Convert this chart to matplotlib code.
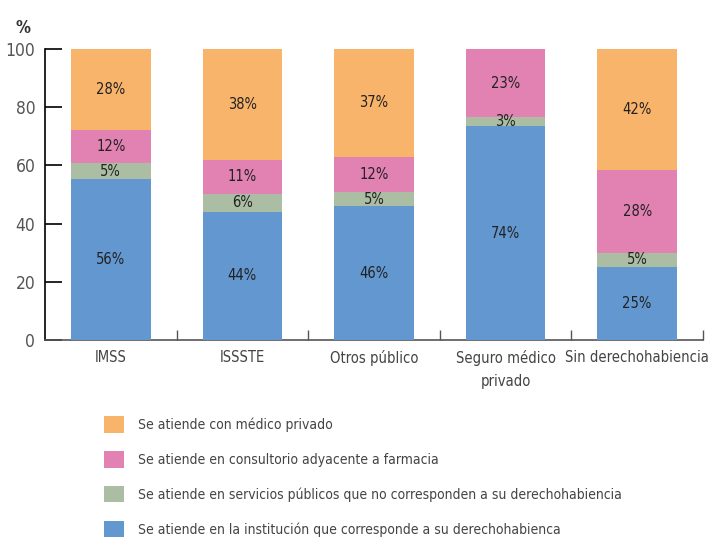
import matplotlib.pyplot as plt
import numpy as np

plt.rcParams['font.family'] = ['DejaVu Sans']
plt.rcParams['font.stretch'] = 'condensed'

categorias = ["IMSS", "ISSSTE", "Otros público", "Seguro médico\nprivado",
              "Sin derechohabiencia"]

# alturas de segmentos (%)
institucion = [55.3, 44.0, 46.0, 73.5, 25.2]
otros_publicos = [5.5, 6.2, 4.9, 3.0, 4.8]
consultorio = [11.4, 11.7, 12.0, 23.5, 28.5]
privado = [27.8, 38.1, 37.1, 0.0, 41.5]

# etiquetas impresas
lab_institucion = ["56%", "44%", "46%", "74%", "25%"]
lab_otros = ["5%", "6%", "5%", "3%", "5%"]
lab_consultorio = ["12%", "11%", "12%", "23%", "28%"]
lab_privado = ["28%", "38%", "37%", "", "42%"]

nombres = ["Se atiende en la institución que corresponde a su derechohabienca",
           "Se atiende en servicios públicos que no corresponden a su derechohabiencia",
           "Se atiende en consultorio adyacente a farmacia",
           "Se atiende con médico privado"]
colores = ["#6297cf", "#abbea3", "#e282b3", "#f9b46b"]

fig = plt.figure(figsize=(7.11, 5.42), dpi=100)
ax = fig.add_axes([0.0633, 0.3727, 0.9254, 0.5369])

x = np.arange(len(categorias))
w = 0.606
bottom = np.zeros(len(categorias))
barras = []
series = [institucion, otros_publicos, consultorio, privado]
etiquetas = [lab_institucion, lab_otros, lab_consultorio, lab_privado]
for vals, labs, col, nom in zip(series, etiquetas, colores, nombres):
    vals = np.array(vals)
    b = ax.bar(x, vals, w, bottom=bottom, color=col, label=nom, zorder=3)
    barras.append(b)
    for xi, v, bt, lb in zip(x, vals, bottom, labs):
        if lb:
            ax.text(xi, bt + v / 2, lb, ha="center", va="center",
                    fontsize=10.5, color="#222222", zorder=4)
    bottom = bottom + vals

ax.set_xlim(-0.5, 4.5)
ax.set_ylim(0, 100)
ax.set_yticks([0, 20, 40, 60, 80, 100])
ax.tick_params(axis="y", direction="in", length=12, width=1.2,
               labelsize=12.5, labelcolor="#555555", pad=7)
ax.set_xticks(x)
ax.set_xticklabels(categorias, linespacing=1.7)
ax.tick_params(axis="x", length=0, labelsize=10.6, labelcolor="#444444", pad=7)
ax.set_xticks(np.arange(-0.5, 5.0, 1.0)[1:], minor=True)
ax.tick_params(axis="x", which="minor", direction="in", length=7,
               width=1, color="#555555")

for s in ["top", "right"]:
    ax.spines[s].set_visible(False)
ax.spines["left"].set_linewidth(1.2)
ax.spines["bottom"].set_color("#555555")
ax.spines["bottom"].set_linewidth(1.2)

fig.text(0.022, 0.965, "%", fontsize=12, fontweight="bold", color="#333333",
         va="top")

leg = fig.legend(handles=barras[::-1], loc="upper left",
                 bbox_to_anchor=(0.129, 0.255), frameon=False, fontsize=10,
                 handlelength=1.44, handleheight=1.44, labelspacing=1.33,
                 handletextpad=0.98, labelcolor="#444444")

fig.savefig("out.png", dpi=100)
